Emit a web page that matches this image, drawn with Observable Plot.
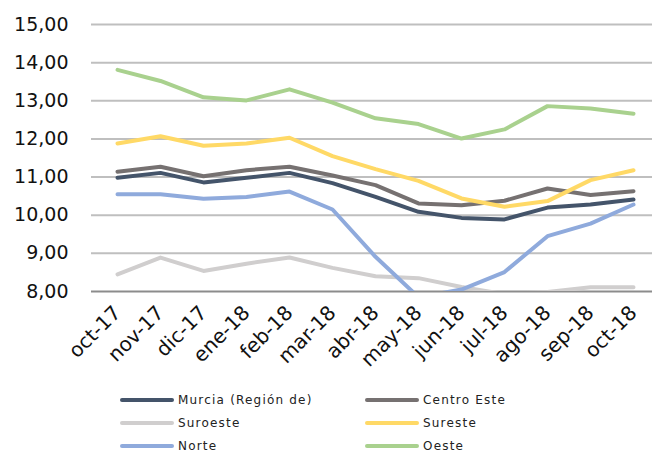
<!DOCTYPE html>
<html>
<head>
<meta charset="utf-8">
<script src="https://cdn.jsdelivr.net/npm/d3@7"></script>
<script src="https://cdn.jsdelivr.net/npm/@observablehq/plot@0.6"></script>
<style>
  body { margin: 0; background: #fff; width: 652px; height: 452px; overflow: hidden; position: relative; font-family: "DejaVu Sans", sans-serif; }
  #legend { position: absolute; left: 120px; top: 389px; display: grid; grid-template-columns: 245px 200px; grid-auto-rows: 22.8px; }
  .item { display: flex; align-items: center; font-size: 12px; color: #222; letter-spacing: 1.2px; }
  .sw { width: 54px; height: 4px; border-radius: 2px; margin-right: 4px; }
</style>
</head>
<body>
<div id="chart"></div>
<div id="legend"></div>
<script>
const months = ["oct-17","nov-17","dic-17","ene-18","feb-18","mar-18","abr-18","may-18","jun-18","jul-18","ago-18","sep-18","oct-18"];
const seriesNames = ["Murcia (Región de)","Centro Este","Suroeste","Sureste","Norte","Oeste"];
const seriesColors = ["#44546a","#767171","#d0cece","#ffd966","#8faadc","#a9d18e"];
const murcia     = [10.98,11.11,10.86,10.98,11.11,10.84,10.48,10.09,9.93,9.89,10.20,10.28,10.41];
const centroEste = [11.14,11.27,11.02,11.18,11.27,11.04,10.79,10.31,10.26,10.38,10.70,10.53,10.63];
const suroeste   = [8.45,8.89,8.54,8.73,8.89,8.62,8.40,8.35,8.12,7.93,7.99,8.11,8.11];
const sureste    = [11.88,12.07,11.82,11.88,12.03,11.55,11.21,10.90,10.44,10.22,10.37,10.92,11.18];
const norte      = [10.55,10.55,10.43,10.48,10.62,10.15,8.91,7.85,8.05,8.51,9.45,9.78,10.28];
const oeste      = [13.81,13.52,13.09,13.01,13.30,12.95,12.54,12.39,12.01,12.25,12.86,12.80,12.66];
const yTicks = [8,9,10,11,12,13,14,15];

const seriesValues = [murcia, centroEste, suroeste, sureste, norte, oeste];
const data = seriesNames.flatMap((name, i) =>
  months.map((m, j) => ({month: m, value: seriesValues[i][j], series: name})));

const fmt = v => v.toFixed(2).replace(".", ",");

const chart = Plot.plot({
  width: 652,
  height: 385,
  marginLeft: 91,
  marginRight: 0,
  marginTop: 24,
  marginBottom: 94,
  style: {fontFamily: "DejaVu Sans, sans-serif", color: "#111", background: "#fff"},
  x: {type: "point", domain: months, padding: 0, insetLeft: 22, insetRight: 16, label: null},
  y: {domain: [8, 15], label: null},
  color: {domain: seriesNames, range: seriesColors},
  marks: [
    Plot.ruleY(yTicks.filter(d => d > 8), {stroke: "#bfbfbf", strokeWidth: 2}),
    Plot.ruleY([8], {stroke: "#8c8c8c", strokeWidth: 2}),
    Plot.axisY(yTicks, {tickSize: 0, tickPadding: 23, tickFormat: fmt, fontSize: 19, label: null}),
    Plot.axisX(months, {tickSize: 0, tickPadding: 18, tickRotate: -45, fontSize: 20, label: null}),
    Plot.line(data, {x: "month", y: "value", z: "series", stroke: "series", strokeWidth: 4, strokeLinejoin: "round", strokeLinecap: "round", clip: true})
  ]
});
document.getElementById("chart").appendChild(chart);

const legend = document.getElementById("legend");
seriesNames.forEach((name, i) => {
  const item = document.createElement("div");
  item.className = "item";
  const sw = document.createElement("span");
  sw.className = "sw";
  sw.style.background = seriesColors[i];
  item.appendChild(sw);
  item.appendChild(document.createTextNode(name));
  legend.appendChild(item);
});
</script>
</body>
</html>
